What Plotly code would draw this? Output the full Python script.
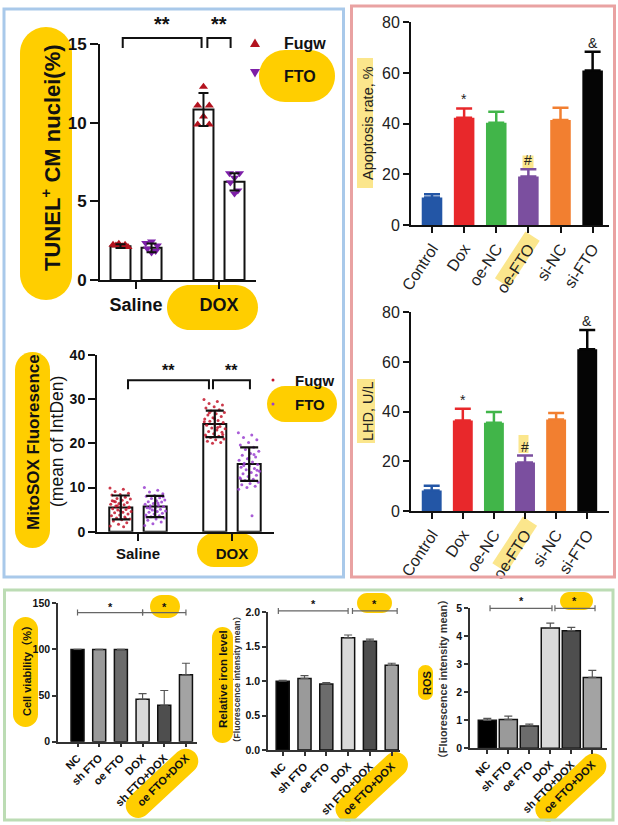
import math
import plotly.graph_objects as go

W, H = 618, 825
FONT = "Liberation Sans, Arial, Noto Sans CJK SC, sans-serif"
YEL = "#FFCE00"
LYEL = "#FBE68C"
INK = "#111111"

# ======================= DATA =======================
# Panel A : TUNEL+ CM nuclei (%)
tunel_cats = ["Saline", "DOX"]
tunel_fugw_mean = [2.15, 10.85]
tunel_fugw_sd = [0.12, 1.05]
tunel_fto_mean = [2.05, 6.25]
tunel_fto_sd = [0.28, 0.55]
tunel_fugw_saline_pts = [2.25, 2.2, 2.3, 2.15, 2.25, 2.1]
tunel_fugw_dox_pts = [12.3, 11.1, 11.1, 10.4, 9.9, 9.9]
tunel_fto_saline_pts = [2.45, 2.35, 2.2, 2.0, 1.85, 1.75]
tunel_fto_dox_pts = [6.8, 6.8, 6.5, 6.2, 5.7, 5.5]

# Panel B : MitoSOX fluorescence (mean of IntDen)
mito_cats = ["Saline", "DOX"]
mito_fugw_mean = [5.5, 24.4]
mito_fugw_sd = [2.7, 3.0]
mito_fto_mean = [5.7, 15.3]
mito_fto_sd = [2.4, 3.8]
mito_fugw_saline_pts = [9.9, 9.6, 9.1, 8.7, 8.4, 8.3, 7.8, 7.5, 7.4, 7.1, 6.9, 6.6, 6.4, 6.2,
                        6.1, 5.8, 5.6, 5.5, 5.2, 5.0, 4.9, 4.6, 4.4, 4.3, 4.0, 3.8, 3.6, 3.3,
                        3.1, 2.9, 2.7, 2.4, 2.0, 1.7, 1.3, 1.1, 6.8, 5.4, 4.7, 7.0, 3.0, 5.9]
mito_fto_saline_pts = [10.0, 9.4, 9.0, 8.6, 8.2, 8.0, 7.7, 7.5, 7.2, 7.0, 6.8, 6.7, 6.4, 6.2,
                       6.0, 5.9, 5.7, 5.5, 5.4, 5.1, 4.9, 4.7, 4.6, 4.4, 4.2, 4.0, 3.8, 3.6,
                       3.4, 3.1, 2.9, 2.6, 2.2, 1.8, 1.4, 6.5, 5.3, 7.9, 4.8, 3.3]
mito_fugw_dox_pts = [29.9, 29.5, 29.0, 28.7, 28.3, 28.0, 27.6, 27.3, 27.0, 26.7, 26.4, 26.1,
                     25.8, 25.5, 25.2, 25.0, 24.7, 24.4, 24.1, 23.8, 23.5, 23.3, 23.0, 22.7,
                     22.5, 22.2, 21.9, 21.6, 21.3, 21.0, 20.8, 20.5, 20.2, 20.0, 24.9, 23.6,
                     26.9, 22.0, 25.6, 21.5]
mito_fto_dox_pts = [22.4, 21.9, 21.3, 20.8, 20.2, 19.6, 19.1, 18.6, 18.2, 17.7, 17.3, 16.9,
                    16.5, 16.2, 15.8, 15.5, 15.2, 14.9, 14.6, 14.3, 14.0, 13.7, 13.4, 13.1,
                    12.8, 12.5, 12.2, 11.9, 11.6, 11.2, 10.9, 10.6, 10.3, 10.0, 9.6, 3.6,
                    15.0, 13.9, 16.7, 12.0, 17.5]

# Panels C / D : apoptosis rate and LDH
treat_cats = ["Control", "Dox", "oe-NC", "oe-FTO", "si-NC", "si-FTO"]
treat_colors = ["#2356a6", "#e8282b", "#41b549", "#7b4f9f", "#f27f30", "#050505"]
apop_mean = [10.9, 42.3, 40.4, 19.1, 41.4, 61.0]
apop_sd = [1.2, 3.7, 4.3, 2.9, 4.9, 7.4]
lhd_mean = [8.3, 36.4, 35.5, 19.5, 36.8, 65.1]
lhd_sd = [1.9, 4.8, 4.4, 2.8, 2.7, 7.8]
treat_marks = ["", "*", "", "#", "", "&"]

# Panels E / F / G
fto_cats = ["NC", "sh FTO", "oe FTO", "DOX", "sh FTO+DOX", "oe FTO+DOX"]
fto_colors = ["#000000", "#9a9a9a", "#6c6c6c", "#d9d9d9", "#4e4e4e", "#a3a3a3"]
viab_mean = [100, 100, 100, 46, 39.5, 72.5]
viab_err = [0, 0, 0, 6, 16, 12.5]
iron_mean = [1.0, 1.04, 0.96, 1.63, 1.58, 1.23]
iron_err = [0.01, 0.04, 0.02, 0.04, 0.03, 0.03]
ros_mean = [1.0, 1.03, 0.80, 4.30, 4.20, 2.53]
ros_err = [0.07, 0.12, 0.06, 0.17, 0.12, 0.25]

# ======================= GEOMETRY (pixels) =======================
panels = {
    "A": dict(px=(100, 256), py=(280, 44.3), xr=(-0.434, 1.446), yr=(0, 15)),
    "B": dict(px=(97, 274), py=(531.7, 355), xr=(-0.436, 1.447), yr=(0, 40)),
    "C": dict(px=(411, 609), py=(225, 22.3), xr=(-0.654, 5.51), yr=(0, 80)),
    "D": dict(px=(411, 609), py=(511, 312.3), xr=(-0.666, 5.70), yr=(0, 80)),
    "E": dict(px=(58, 197), py=(741.7, 603.3), xr=(-0.9, 5.51), yr=(0, 150)),
    "F": dict(px=(268, 400), py=(750, 612.3), xr=(-0.674, 5.38), yr=(0, 2)),
    "G": dict(px=(470, 607), py=(748.3, 608.3), xr=(-0.824, 5.7), yr=(0, 5)),
}
order = ["A", "B", "C", "D", "E", "F", "G"]


def names(p):
    i = order.index(p) + 1
    s = "" if i == 1 else str(i)
    return "x" + s, "y" + s, "xaxis" + s, "yaxis" + s


def to_px(p, x, y):
    P = panels[p]
    X = P["px"][0] + (x - P["xr"][0]) / (P["xr"][1] - P["xr"][0]) * (P["px"][1] - P["px"][0])
    Y = P["py"][0] + (y - P["yr"][0]) / (P["yr"][1] - P["yr"][0]) * (P["py"][1] - P["py"][0])
    return X, Y


def pp(X, Y):
    return X / W, 1 - Y / H


def ptxt(X, Y):
    a, b = pp(X, Y)
    return f"{a:.5f},{b:.5f}"


def rrect(cx, cy, L, T, r, ang):
    a = math.radians(ang)
    ux, uy = math.cos(a), -math.sin(a)
    vx, vy = math.sin(a), math.cos(a)

    def tr(lx, ly):
        return ptxt(cx + lx * ux + ly * vx, cy + lx * uy + ly * vy)

    k = 0.5523
    hw, hh = L / 2, T / 2
    r = min(r, hw, hh)
    s = ["M" + tr(-hw + r, -hh), "L" + tr(hw - r, -hh),
         "C" + tr(hw - r + k * r, -hh) + " " + tr(hw, -hh + r - k * r) + " " + tr(hw, -hh + r),
         "L" + tr(hw, hh - r),
         "C" + tr(hw, hh - r + k * r) + " " + tr(hw - r + k * r, hh) + " " + tr(hw - r, hh),
         "L" + tr(-hw + r, hh),
         "C" + tr(-hw + r - k * r, hh) + " " + tr(-hw, hh - r + k * r) + " " + tr(-hw, hh - r),
         "L" + tr(-hw, -hh + r),
         "C" + tr(-hw, -hh + r - k * r) + " " + tr(-hw + r - k * r, -hh) + " " + tr(-hw + r, -hh),
         "Z"]
    return " ".join(s)


shapes = []
annos = []


def pill(cx, cy, L, T, ang=0, color=YEL, r=None):
    shapes.append(dict(type="path", path=rrect(cx, cy, L, T, T / 2 if r is None else r, ang),
                       xref="paper", yref="paper", fillcolor=color, line=dict(width=0),
                       layer="below"))


def text(X, Y, s, size, color=INK, angle=0, xanchor="center", yanchor="middle", bold=False):
    a, b = pp(X, Y)
    annos.append(dict(x=a, y=b, xref="paper", yref="paper", text=s, showarrow=False,
                      textangle=angle, xanchor=xanchor, yanchor=yanchor,
                      font=dict(family=FONT, size=size, color=color,
                                weight="bold" if bold else "normal")))


def path_shape(pts_cmds, color, width):
    shapes.append(dict(type="path", path=pts_cmds, xref="paper", yref="paper",
                       line=dict(color=color, width=width), layer="above"))


def bracket_drop(p, x0, x1, y, drop, color=INK, width=2):
    X0, Y = to_px(p, x0, y)
    X1, _ = to_px(p, x1, y)
    path_shape(f"M{ptxt(X0, Y + drop)} L{ptxt(X0, Y)} L{ptxt(X1, Y)} L{ptxt(X1, Y + drop)}", color, width)
    return (X0 + X1) / 2, Y


def bracket_caps(p, x0, x1, y, cap=3, color="#666666", width=1.2):
    X0, Y = to_px(p, x0, y)
    X1, _ = to_px(p, x1, y)
    path_shape(f"M{ptxt(X0, Y - cap)} L{ptxt(X0, Y + cap)} M{ptxt(X0, Y)} L{ptxt(X1, Y)} "
               f"M{ptxt(X1, Y - cap)} L{ptxt(X1, Y + cap)}", color, width)
    return (X0 + X1) / 2, Y


def spread(n, half):
    return [half * (((k * 0.6180339887) % 1.0) * 2 - 1) for k in range(n)]


fig = go.Figure()
layout_axes = {}


def setup_axes(p, xkw, ykw, linecolor=INK, lw=2):
    P = panels[p]
    xn, yn, xk, yk = names(p)
    base = dict(showgrid=False, zeroline=False, fixedrange=True, showline=True,
                ticks="outside", linecolor=linecolor, linewidth=lw, tickcolor=linecolor,
                tickwidth=lw, automargin=False)
    xa = dict(base, domain=[P["px"][0] / W, P["px"][1] / W], range=list(P["xr"]), anchor=yn)
    xa.update(xkw)
    ya = dict(base, domain=[1 - P["py"][0] / H, 1 - P["py"][1] / H], range=list(P["yr"]), anchor=xn)
    ya.update(ykw)
    layout_axes[xk] = xa
    layout_axes[yk] = ya
    return xn, yn


# ======================= PANEL A =======================
xn, yn = setup_axes("A",
                    dict(tickvals=list(range(len(tunel_cats))), ticktext=tunel_cats, ticklen=7,
                         tickfont=dict(family=FONT, size=18, color=INK, weight="bold")),
                    dict(tickvals=[0, 5, 10, 15], ticklen=8,
                         tickfont=dict(family=FONT, size=17, color=INK, weight="bold")))
offA, bwA = 0.187, 0.241
gx = list(range(len(tunel_cats)))
for sgn, mean, sd, pts, col, sym in [
        (-1, tunel_fugw_mean, tunel_fugw_sd, [tunel_fugw_saline_pts, tunel_fugw_dox_pts], "#b3131f", "triangle-up"),
        (1, tunel_fto_mean, tunel_fto_sd, [tunel_fto_saline_pts, tunel_fto_dox_pts], "#7d1fa8", "triangle-down")]:
    xs = [g + sgn * offA for g in gx]
    fig.add_trace(go.Bar(x=xs, y=mean, width=bwA, marker=dict(color="white", line=dict(color=INK, width=2)),
                         xaxis=xn, yaxis=yn))
    jit_row = [-0.09, -0.055, -0.02, 0.02, 0.055, 0.09]
    jit_dox = [0.0, -0.07, 0.07, 0.0, -0.07, 0.07] if sgn < 0 else [-0.06, 0.06, 0.0, -0.05, 0.04, 0.0]
    px_, py_ = [], []
    for g, vals, jit in [(0, pts[0], jit_row if sgn < 0 else [0.0, -0.07, 0.07, -0.05, 0.05, 0.0]), (1, pts[1], jit_dox)]:
        for v, j in zip(vals, jit):
            px_.append(g + sgn * offA + j)
            py_.append(v)
    fig.add_trace(go.Scatter(x=px_, y=py_, mode="markers", marker=dict(symbol=sym, size=8, color=col),
                             xaxis=xn, yaxis=yn, cliponaxis=False))
    fig.add_trace(go.Scatter(x=xs, y=mean, mode="markers", marker=dict(size=1, color="rgba(0,0,0,0)"),
                             error_y=dict(type="data", array=sd, color=INK, thickness=2, width=5),
                             xaxis=xn, yaxis=yn))

# y title + pill
pill(46, 163.5, 273, 52, ang=90)
text(51, 158, "<b>TUNEL<sup>+</sup> CM nuclei(%)</b>", 22, angle=-90)
# DOX label pill
pill(212.5, 307.5, 91, 45)
# legend
shapes.append(dict(type="path", path=f"M{ptxt(255, 38.5)} L{ptxt(260, 47)} L{ptxt(250, 47)} Z",
                   xref="paper", yref="paper", fillcolor="#b3131f", line=dict(width=0)))
pill(297, 76, 76, 52)
shapes.append(dict(type="path", path=f"M{ptxt(250, 69)} L{ptxt(260, 69)} L{ptxt(255, 77.5)} Z",
                   xref="paper", yref="paper", fillcolor="#7d1fa8", line=dict(width=0)))
text(282, 43, "Fugw", 16, xanchor="left", bold=True)
text(282, 76, "FTO", 16, xanchor="left", bold=True)
# significance
cx, cy = bracket_drop("A", -0.16, 0.79, 15.4, 10)
text(cx, cy - 14, "**", 20, bold=True)
cx, cy = bracket_drop("A", 0.86, 1.14, 15.4, 10)
text(cx, cy - 14, "**", 20, bold=True)

# ======================= PANEL B =======================
xn, yn = setup_axes("B",
                    dict(tickvals=list(range(len(mito_cats))), ticktext=mito_cats, ticklen=7,
                         tickfont=dict(family=FONT, size=15, color=INK, weight="bold")),
                    dict(tickvals=[0, 10, 20, 30, 40], ticklen=7,
                         tickfont=dict(family=FONT, size=14, color=INK, weight="bold")))
offB, bwB = 0.183, 0.245
gx = list(range(len(mito_cats)))
for sgn, mean, sd, pts, col in [
        (-1, mito_fugw_mean, mito_fugw_sd, [mito_fugw_saline_pts, mito_fugw_dox_pts], "#c3162c"),
        (1, mito_fto_mean, mito_fto_sd, [mito_fto_saline_pts, mito_fto_dox_pts], "#9a3fd0")]:
    xs = [g + sgn * offB for g in gx]
    fig.add_trace(go.Bar(x=xs, y=mean, width=bwB, marker=dict(color="white", line=dict(color=INK, width=2)),
                         xaxis=xn, yaxis=yn))
    px_, py_ = [], []
    for g, vals in zip(gx, pts):
        for v, j in zip(vals, spread(len(vals), 0.115)):
            px_.append(g + sgn * offB + j)
            py_.append(v)
    fig.add_trace(go.Scatter(x=px_, y=py_, mode="markers", marker=dict(size=3, color=col, opacity=0.85),
                             xaxis=xn, yaxis=yn))
    fig.add_trace(go.Scatter(x=xs, y=mean, mode="markers", marker=dict(size=1, color="rgba(0,0,0,0)"),
                             error_y=dict(type="data", array=sd, color=INK, thickness=2.2, width=9),
                             xaxis=xn, yaxis=yn))

pill(32.5, 450, 196, 35, ang=90)
text(33, 442, "<b>MitoSOX Fluoresence</b>", 17, angle=-90)
text(57, 442, "(mean of IntDen)", 17.5, angle=-90)
pill(227.5, 550, 61, 34)
pill(302, 404, 70, 36)
shapes.append(dict(type="circle", xref="paper", yref="paper", x0=(271.5) / W, x1=(274.5) / W,
                   y0=1 - 381.5 / H, y1=1 - 378.5 / H, fillcolor="#c3162c", line=dict(width=0)))
shapes.append(dict(type="circle", xref="paper", yref="paper", x0=(271.5) / W, x1=(274.5) / W,
                   y0=1 - 405.5 / H, y1=1 - 402.5 / H, fillcolor="#9a3fd0", line=dict(width=0)))
text(293, 380, "Fugw", 15, xanchor="left", bold=True)
text(293, 404, "FTO", 15, xanchor="left", bold=True)
cx, cy = bracket_drop("B", -0.106, 0.755, 34.3, 9)
text(cx, cy - 10, "**", 16, bold=True)
cx, cy = bracket_drop("B", 0.798, 1.191, 34.3, 9)
text(cx, cy - 10, "**", 16, bold=True)


# ======================= PANELS C / D =======================
def treat_panel(p, mean, sd, title, title_box):
    xn, yn = setup_axes(p,
                        dict(tickvals=list(range(len(treat_cats))), ticktext=treat_cats, ticklen=6,
                             tickangle=-57, tickfont=dict(family=FONT, size=16, color="#222222")),
                        dict(tickvals=[0, 20, 40, 60, 80], ticklen=6,
                             tickfont=dict(family=FONT, size=16, color="#222222")))
    for i, (m, s, c) in enumerate(zip(mean, sd, treat_colors)):
        fig.add_trace(go.Bar(x=[i], y=[m], width=0.64, marker=dict(color=c, line=dict(width=0)),
                             error_y=dict(type="data", symmetric=False, array=[s], arrayminus=[0],
                                          color=c, thickness=2.5, width=8),
                             xaxis=xn, yaxis=yn))
        if treat_marks[i]:
            X, Y = to_px(p, i, m + s)
            text(X, Y - 9, treat_marks[i], 14, color="#222222")
    cxh, cyh, wh, hh = title_box
    shapes.append(dict(type="rect", xref="paper", yref="paper", x0=(cxh - wh / 2) / W, x1=(cxh + wh / 2) / W,
                       y0=1 - (cyh + hh / 2) / H, y1=1 - (cyh - hh / 2) / H, fillcolor=LYEL,
                       line=dict(width=0), layer="below"))
    text(368, cyh, title, 14.5, color="#222222", angle=-90)


treat_panel("C", apop_mean, apop_sd, "Apoptosis rate, %", (365, 123, 16, 130))
treat_panel("D", lhd_mean, lhd_sd, "LHD, U/L", (366, 411, 18, 64))
# highlights on '#' and 'oe-FTO'
pill(528, 162.5, 11, 14, color=LYEL, r=0)
pill(523.5, 444, 10, 18, color=LYEL, r=0)
pill(517.3, 259.5, 56, 17, ang=57, color=LYEL, r=0)
pill(514.7, 544.5, 56, 17, ang=57, color=LYEL, r=0)


# ======================= PANELS E / F / G =======================
def fto_panel(p, mean, err, yvals, ytext, bw):
    xn, yn = setup_axes(p,
                        dict(tickvals=list(range(len(fto_cats))), ticktext=fto_cats, ticklen=4,
                             tickangle=-45, tickfont=dict(family=FONT, size=11, color=INK, weight="bold")),
                        dict(tickvals=yvals, ticktext=ytext, ticklen=4,
                             tickfont=dict(family=FONT, size=10.5, color=INK, weight="bold")),
                        linecolor="#333333", lw=1.5)
    fig.add_trace(go.Bar(x=list(range(len(fto_cats))), y=mean, width=bw,
                         marker=dict(color=fto_colors, line=dict(color="#111111", width=1.5)),
                         error_y=dict(type="data", symmetric=False, array=err, arrayminus=[0] * len(err),
                                      color="#555555", thickness=1.2, width=4),
                         xaxis=xn, yaxis=yn))


fto_panel("E", viab_mean, viab_err, [0, 50, 100, 150], ["0", "50", "100", "150"], 0.6)
fto_panel("F", iron_mean, iron_err, [0, 0.5, 1.0, 1.5, 2.0], ["0.0", "0.5", "1.0", "1.5", "2.0"], 0.6)
fto_panel("G", ros_mean, ros_err, [0, 1, 2, 3, 4, 5], ["0", "1", "2", "3", "4", "5"], 0.86)

# E
pill(25.5, 672, 110, 25, ang=90)
text(27, 668, "<b>Cell viability（%）</b>", 11, angle=-90)
pill(165, 606.5, 30, 23)
cx, cy = bracket_caps("E", 0, 3, 140)
text(cx, cy - 6, "<b>*</b>", 11)
cx, cy = bracket_caps("E", 3, 5, 140)
text(cx, cy - 6, "<b>*</b>", 11)
pill(162, 783.3, 90, 25, ang=43)
# F
pill(222.5, 685, 116, 21, ang=90)
text(223, 679, "<b>Relative iron level</b>", 11.5, angle=-90)
text(237, 680, "<b>（Fluorescence intensity mean）</b>", 8.6, color="#333333", angle=-90)
pill(374.5, 603, 35, 20)
cx, cy = bracket_caps("F", -0.2, 3.0, 2.02)
text(cx, cy - 7, "<b>*</b>", 11)
cx, cy = bracket_caps("F", 3.2, 5.25, 2.02)
text(cx, cy - 7, "<b>*</b>", 11)
pill(371.7, 786.7, 90, 25, ang=43)
# G
pill(425.5, 682.5, 35, 15, ang=90)
text(427, 683, "<b>ROS</b>", 11, angle=-90)
text(443, 679, "<b>（Fluorescence intensity mean）</b>", 10.8, color="#333333", angle=-90)
pill(576.5, 601, 33, 18)
cx, cy = bracket_caps("G", 0.13, 3.08, 5.0)
text(cx, cy - 7, "<b>*</b>", 11)
cx, cy = bracket_caps("G", 3.22, 5.13, 5.0)
text(cx, cy - 7, "<b>*</b>", 11)
pill(570.8, 787.5, 88, 25, ang=43)

# ======================= BORDERS =======================
for (x0, y0, x1, y1, c) in [(4, 9, 343.5, 577, "#a9c9ea"), (351.5, 6, 614.5, 577, "#e9a2a2"),
                            (4.5, 590, 613, 820, "#bcdcb4")]:
    shapes.append(dict(type="rect", xref="paper", yref="paper", x0=x0 / W, x1=x1 / W,
                       y0=1 - y1 / H, y1=1 - y0 / H, line=dict(color=c, width=3),
                       fillcolor="rgba(0,0,0,0)", layer="above"))

fig.update_layout(width=W, height=H, autosize=False,
                  margin=dict(l=0, r=0, t=0, b=0, pad=0, autoexpand=False),
                  paper_bgcolor="white", plot_bgcolor="rgba(0,0,0,0)", showlegend=False,
                  barmode="overlay", shapes=shapes, annotations=annos,
                  font=dict(family=FONT), **layout_axes)
fig.write_html("out.html", config=dict(responsive=False, displayModeBar=False),
               post_script="document.body.style.margin='0px';document.body.style.padding='0px';"
                           "document.body.style.overflow='hidden';")
